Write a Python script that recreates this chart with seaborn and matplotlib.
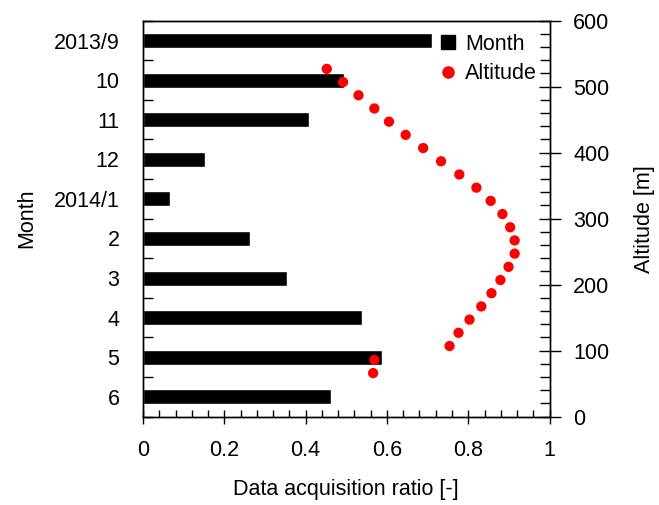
import pandas as pd
import matplotlib
matplotlib.use("Agg")
import matplotlib.pyplot as plt
from matplotlib.lines import Line2D
from matplotlib.ticker import MultipleLocator, FixedLocator
import seaborn as sns

months = ["2013/9", "10", "11", "12", "2014/1", "2", "3", "4", "5", "6"]
ratio_month = [0.711, 0.494, 0.409, 0.152, 0.066, 0.262, 0.355, 0.538, 0.588, 0.463]

altitude = [527, 507, 487, 467, 447, 427, 407, 387, 367, 347, 327, 307,
            287, 267, 247, 227, 207, 187, 167, 147, 127, 107, 86, 66]
ratio_alt = [0.452, 0.492, 0.530, 0.569, 0.605, 0.646, 0.689, 0.733, 0.778, 0.820, 0.855, 0.884,
             0.903, 0.914, 0.914, 0.899, 0.879, 0.857, 0.832, 0.803, 0.776, 0.754, 0.569, 0.566]

sns.set_style("ticks", {"text.color": "black", "axes.labelcolor": "black",
                        "xtick.color": "black", "ytick.color": "black",
                        "axes.edgecolor": "black"})
plt.rcParams['font.family'] = ['Liberation Sans', 'DejaVu Sans']
plt.rcParams['font.size'] = 15.5

bars = pd.DataFrame({"Month": months, "Ratio": ratio_month})
alt = pd.DataFrame({"Ratio": ratio_alt, "Altitude": altitude})

fig = plt.figure(figsize=(6.59, 5.05), dpi=100)
ax = fig.add_axes([0.217, 0.175, 0.617, 0.784])
sns.barplot(data=bars, x="Ratio", y="Month", orient="h", color="black",
            width=0.38, saturation=1, ax=ax)
ax.set_xlim(0, 1)
ax.set_ylim(9.5, -0.5)
ax.set_xlabel("Data acquisition ratio [-]", labelpad=13)
ax.set_ylabel("Month", labelpad=12)
ax.xaxis.set_minor_locator(MultipleLocator(0.04))
ax.set_xticks([0, 0.2, 0.4, 0.6, 0.8, 1.0])
ax.set_xticklabels(["0", "0.2", "0.4", "0.6", "0.8", "1"])
ax.tick_params(axis="x", which="major", direction="inout", length=10, width=1, pad=12)
ax.tick_params(axis="x", which="minor", direction="in", length=5, width=1)
ax.yaxis.set_minor_locator(FixedLocator([i + 0.5 for i in range(-1, 10)]))
ax.tick_params(axis="y", which="major", length=0, pad=17)
ax.tick_params(axis="y", which="minor", direction="in", length=7, width=1)

ax2 = ax.twinx()
sns.scatterplot(data=alt, x="Ratio", y="Altitude", color="red", s=55,
                edgecolor="none", ax=ax2, legend=False)
ax2.set_ylim(0, 600)
ax2.set_xlim(0, 1)
ax2.set_ylabel("Altitude [m]", labelpad=18)
ax2.yaxis.set_major_locator(MultipleLocator(100))
ax2.yaxis.set_minor_locator(MultipleLocator(20))
ax2.tick_params(axis="y", which="major", direction="inout", length=16, width=1, pad=9)
ax2.tick_params(axis="y", which="minor", direction="in", length=7, width=1)

for a in (ax, ax2):
    for s in a.spines.values():
        s.set_linewidth(1.0)
        s.set_color("black")
        s.set_visible(True)

handles = [Line2D([], [], marker="s", color="black", linestyle="none", markersize=10),
           Line2D([], [], marker="o", color="red", linestyle="none", markersize=8)]
ax2.legend(handles, ["Month", "Altitude"], loc="upper right", frameon=False,
           handlelength=0.8, handletextpad=0.4, borderaxespad=0.2, labelspacing=0.4,
           fontsize=15.5, bbox_to_anchor=(1.0, 1.0))

fig.savefig("out.png", dpi=100)
